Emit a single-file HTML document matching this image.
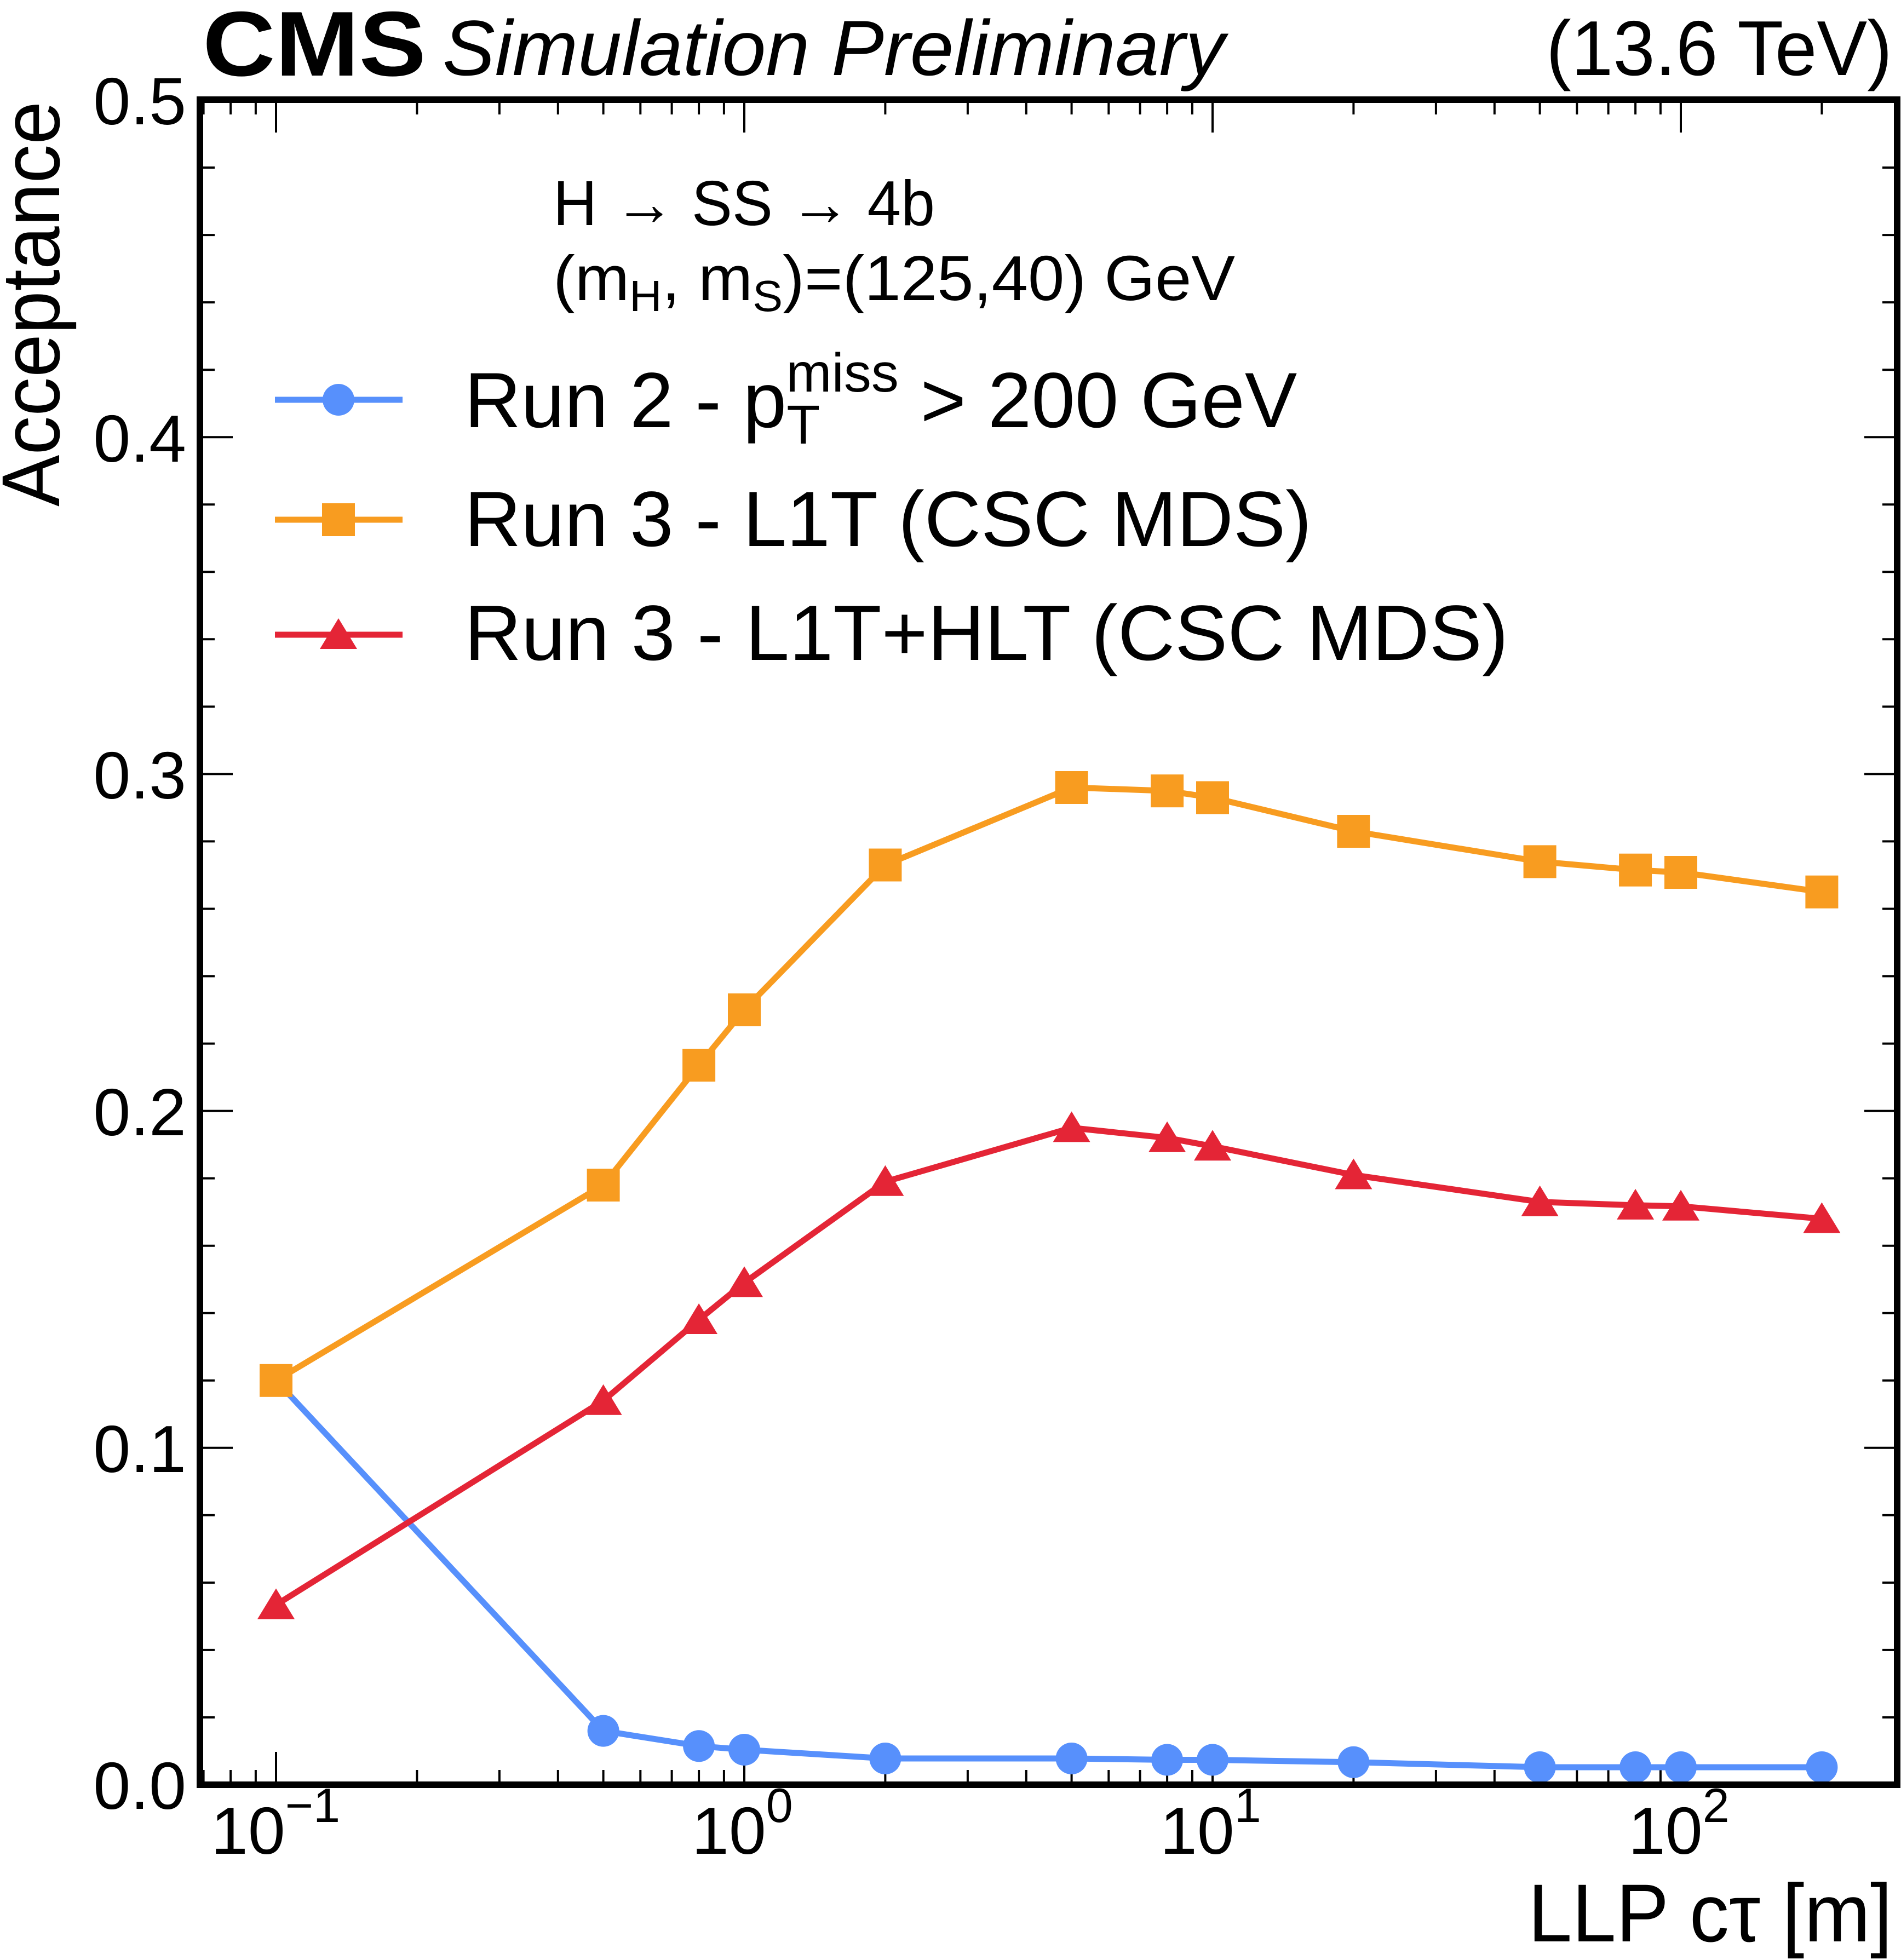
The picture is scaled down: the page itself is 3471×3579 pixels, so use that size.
<!DOCTYPE html>
<html><head><meta charset="utf-8"><style>html,body{margin:0;padding:0;background:#fff}svg{display:block}</style></head>
<body>
<svg xmlns="http://www.w3.org/2000/svg" width="3471" height="3579" viewBox="0 0 3471 3579" font-family="Liberation Sans, Arial, sans-serif">
<rect width="3471" height="3579" fill="#fff"/>
<g stroke="#000" stroke-width="4" fill="none">
<path d="M365 2643.8h60M365 2028.6h60M365 1413.4h60M365 798.2h60M3464 2643.8h-60M3464 2028.6h-60M3464 1413.4h-60M3464 798.2h-60"/>
<path d="M365 3136h27M365 3012.9h27M365 2889.9h27M365 2766.8h27M365 2520.8h27M365 2397.7h27M365 2274.7h27M365 2151.6h27M365 1905.6h27M365 1782.5h27M365 1659.5h27M365 1536.4h27M365 1290.4h27M365 1167.3h27M365 1044.3h27M365 921.2h27M365 675.2h27M365 552.1h27M365 429.1h27M365 306h27"/>
<path d="M3464 3136h-27M3464 3012.9h-27M3464 2889.9h-27M3464 2766.8h-27M3464 2520.8h-27M3464 2397.7h-27M3464 2274.7h-27M3464 2151.6h-27M3464 1905.6h-27M3464 1782.5h-27M3464 1659.5h-27M3464 1536.4h-27M3464 1290.4h-27M3464 1167.3h-27M3464 1044.3h-27M3464 921.2h-27M3464 675.2h-27M3464 552.1h-27M3464 429.1h-27M3464 306h-27"/>
<path d="M504 3259v-60M1359 3259v-60M2214 3259v-60M3069 3259v-60M504 182v60M1359 182v60M2214 182v60M3069 182v60"/>
<path d="M371.6 3259v-27M421.1 3259v-27M466.9 3259v-27M761.4 3259v-27M911.9 3259v-27M1018.8 3259v-27M1101.6 3259v-27M1169.3 3259v-27M1226.6 3259v-27M1276.1 3259v-27M1321.9 3259v-27M1616.4 3259v-27M1766.9 3259v-27M1873.8 3259v-27M1956.6 3259v-27M2024.3 3259v-27M2081.6 3259v-27M2131.1 3259v-27M2176.9 3259v-27M2471.4 3259v-27M2621.9 3259v-27M2728.8 3259v-27M2811.6 3259v-27M2879.3 3259v-27M2936.6 3259v-27M2986.1 3259v-27M3031.9 3259v-27M3326.4 3259v-27"/>
<path d="M371.6 182v27M421.1 182v27M466.9 182v27M761.4 182v27M911.9 182v27M1018.8 182v27M1101.6 182v27M1169.3 182v27M1226.6 182v27M1276.1 182v27M1321.9 182v27M1616.4 182v27M1766.9 182v27M1873.8 182v27M1956.6 182v27M2024.3 182v27M2081.6 182v27M2131.1 182v27M2176.9 182v27M2471.4 182v27M2621.9 182v27M2728.8 182v27M2811.6 182v27M2879.3 182v27M2936.6 182v27M2986.1 182v27M3031.9 182v27M3326.4 182v27"/>
</g>
<g fill="none" stroke-width="11" stroke-linejoin="round">
<polyline stroke="#5790fc" points="504,2520.8 1101.6,3160.6 1276.1,3188.3 1359,3195 1616.4,3211 1956.6,3211 2131.1,3213.5 2214,3213.5 2471.4,3217.8 2811.6,3227 2986.1,3227 3069,3227 3326.4,3227"/>
<polyline stroke="#f89c20" points="504,2520.8 1101.6,2164 1276.1,1945 1359,1844 1616.4,1579.5 1956.6,1438 2131.1,1444.2 2214,1456.5 2471.4,1518 2811.6,1573.4 2986.1,1588.7 3069,1593 3326.4,1628.7"/>
<polyline stroke="#e42536" points="504,2930.5 1101.6,2557.7 1276.1,2410 1359,2342.4 1616.4,2157.8 1956.6,2059.4 2131.1,2077.8 2214,2093.2 2471.4,2145.5 2811.6,2194.7 2986.1,2200.9 3069,2202.7 3326.4,2225.5"/>
</g>
<g fill="#5790fc">
<circle cx="504" cy="2520.8" r="29"/><circle cx="1101.6" cy="3160.6" r="29"/><circle cx="1276.1" cy="3188.3" r="29"/><circle cx="1359" cy="3195" r="29"/><circle cx="1616.4" cy="3211" r="29"/><circle cx="1956.6" cy="3211" r="29"/><circle cx="2131.1" cy="3213.5" r="29"/><circle cx="2214" cy="3213.5" r="29"/><circle cx="2471.4" cy="3217.8" r="29"/><circle cx="2811.6" cy="3227" r="29"/><circle cx="2986.1" cy="3227" r="29"/><circle cx="3069" cy="3227" r="29"/><circle cx="3326.4" cy="3227" r="29"/>
</g>
<g fill="#f89c20">
<rect x="474" y="2490.8" width="60" height="60"/><rect x="1071.6" y="2134" width="60" height="60"/><rect x="1246.1" y="1915" width="60" height="60"/><rect x="1329" y="1814" width="60" height="60"/><rect x="1586.4" y="1549.5" width="60" height="60"/><rect x="1926.6" y="1408" width="60" height="60"/><rect x="2101.1" y="1414.2" width="60" height="60"/><rect x="2184" y="1426.5" width="60" height="60"/><rect x="2441.4" y="1488" width="60" height="60"/><rect x="2781.6" y="1543.4" width="60" height="60"/><rect x="2956.1" y="1558.7" width="60" height="60"/><rect x="3039" y="1563" width="60" height="60"/><rect x="3296.4" y="1598.7" width="60" height="60"/>
</g>
<g fill="#e42536">
<path d="M504 2900.5l-34 56h68z"/><path d="M1101.6 2527.7l-34 56h68z"/><path d="M1276.1 2380l-34 56h68z"/><path d="M1359 2312.4l-34 56h68z"/><path d="M1616.4 2127.8l-34 56h68z"/><path d="M1956.6 2029.4l-34 56h68z"/><path d="M2131.1 2047.8l-34 56h68z"/><path d="M2214 2063.2l-34 56h68z"/><path d="M2471.4 2115.5l-34 56h68z"/><path d="M2811.6 2164.7l-34 56h68z"/><path d="M2986.1 2170.9l-34 56h68z"/><path d="M3069 2172.7l-34 56h68z"/><path d="M3326.4 2195.5l-34 56h68z"/>
</g>
<rect x="365" y="182" width="3099" height="3077" fill="none" stroke="#000" stroke-width="12"/>
<text x="370" y="138" font-size="168" font-weight="bold" textLength="408" lengthAdjust="spacingAndGlyphs">CMS</text>
<text x="808" y="137" font-size="143" font-style="italic" textLength="1428" lengthAdjust="spacingAndGlyphs">Simulation Preliminary</text>
<text x="2823" y="137" font-size="142" textLength="632" lengthAdjust="spacingAndGlyphs">(13.6 TeV)</text>
<g font-size="122" text-anchor="end">
<text x="340" y="3303">0.0</text><text x="340" y="2688">0.1</text><text x="340" y="2073">0.2</text><text x="340" y="1458">0.3</text><text x="340" y="843">0.4</text><text x="340" y="227">0.5</text>
</g>
<g font-size="122">
<text x="385" y="3385">10<tspan dy="-58" font-size="88">−1</tspan></text>
<text x="1263" y="3385">10<tspan dy="-58" font-size="88">0</tspan></text>
<text x="2118" y="3385">10<tspan dy="-58" font-size="88">1</tspan></text>
<text x="2973" y="3385">10<tspan dy="-58" font-size="88">2</tspan></text>
</g>
<text x="2790" y="3545" font-size="150" textLength="665" lengthAdjust="spacingAndGlyphs">LLP cτ [m]</text>
<text transform="translate(108,185) rotate(-90)" font-size="150" text-anchor="end" textLength="740" lengthAdjust="spacingAndGlyphs">Acceptance</text>
<text x="1010" y="411" font-size="116" textLength="697" lengthAdjust="spacingAndGlyphs">H → SS → 4b</text>
<text x="1010" y="548" font-size="116" textLength="1245" lengthAdjust="spacingAndGlyphs">(m<tspan font-size="80" dy="20">H</tspan><tspan dy="-20">, m</tspan><tspan font-size="80" dy="20">S</tspan><tspan dy="-20">)=(125,40) GeV</tspan></text>
<g stroke-width="11">
<line x1="502" y1="730" x2="735" y2="730" stroke="#5790fc"/>
<line x1="502" y1="949" x2="735" y2="949" stroke="#f89c20"/>
<line x1="502" y1="1159" x2="735" y2="1159" stroke="#e42536"/>
</g>
<circle cx="618" cy="730" r="29" fill="#5790fc"/>
<rect x="588" y="919" width="60" height="60" fill="#f89c20"/>
<path d="M618 1129l-34 56h68z" fill="#e42536"/>
<g font-size="143">
<text x="848" y="780">Run 2 - p<tspan font-size="100" dy="30">T</tspan><tspan font-size="100" dx="-62" dy="-95">miss</tspan><tspan dy="65"> &gt; 200 GeV</tspan></text>
<text x="848" y="997">Run 3 - L1T (CSC MDS)</text>
<text x="848" y="1205" textLength="1906" lengthAdjust="spacingAndGlyphs">Run 3 - L1T+HLT (CSC MDS)</text>
</g>
</svg>
</body></html>
